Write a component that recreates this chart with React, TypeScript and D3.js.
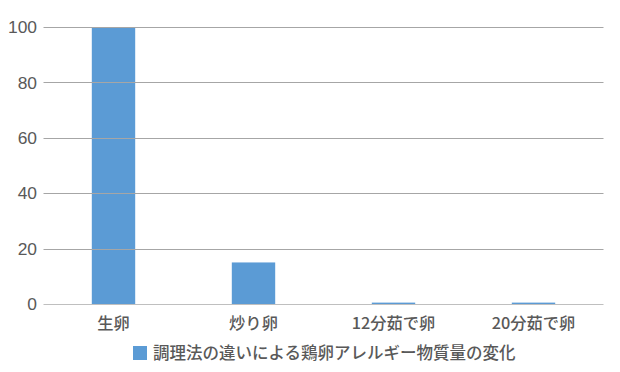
import React from "react";
import * as d3 from "d3";

const categories = ["生卵", "炒り卵", "12分茹で卵", "20分茹で卵"];
const values = [100, 15, 0.5, 0.5];
const yTicks = [0, 20, 40, 60, 80, 100];
const seriesName = "調理法の違いによる鶏卵アレルギー物質量の変化";

export default function App() {
  const W = 620, H = 372;
  const left = 43.5, right = 603.5, top = 27, bottom = 304;
  const x = d3.scaleBand<string>().domain(categories).range([left, right]).paddingInner(0.69).paddingOuter(0.345);
  const y = d3.scaleLinear().domain([0, 100]).range([bottom, top]);
  const font = "'Noto Sans CJK JP', 'Noto Sans', sans-serif";
  const textColor = "#595959";
  return (
    <svg width={W} height={H} style={{ position: "absolute", left: 0, top: 0 }} fontFamily={font}>
      <rect width={W} height={H} fill="#fff" />
      {values.map((v, i) => (
        <rect key={i} x={x(categories[i])} y={y(v)} width={x.bandwidth()} height={bottom - y(v)} fill="#5b9bd5" />
      ))}
      {yTicks.map((t) => (
        <g key={t}>
          <line x1={left} x2={right} y1={Math.round(y(t)) + 0.5} y2={Math.round(y(t)) + 0.5} stroke={t === 0 ? "#bfbfbf" : "#a6a6a6"} strokeWidth={1} />
          <text x={37} y={y(t)} dy="0.36em" textAnchor="end" fontSize={17.4} fill={textColor} fontFamily="'Liberation Sans', Arial, sans-serif">{t}</text>
        </g>
      ))}
      {categories.map((c) => (
        <text key={c} x={(x(c) as number) + x.bandwidth() / 2} y={323} dy="0.36em" textAnchor="middle" fontSize={16.3} fontWeight={500} fill={textColor}>{c}</text>
      ))}
      <rect x={133} y={346} width={14} height={14} fill="#5b9bd5" />
      <text x={153} y={353} dy="0.36em" fontSize={16.5} fontWeight={500} fill={textColor}>{seriesName}</text>
    </svg>
  );
}
